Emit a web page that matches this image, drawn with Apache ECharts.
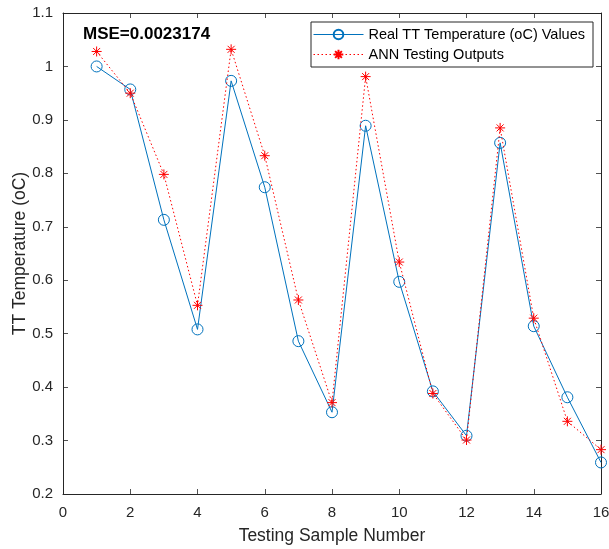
<!DOCTYPE html>
<html><head><meta charset="utf-8">
<script src="https://cdn.jsdelivr.net/npm/echarts@6/dist/echarts.min.js"></script>
<style>html,body{margin:0;padding:0;background:#fff}#c{width:609px;height:549px}</style>
</head><body><div id="c"></div>
<script>
const samples = [1,2,3,4,5,6,7,8,9,10,11,12,13,14,15,16];
const realValues = [1.000,0.957,0.713,0.508,0.973,0.774,0.486,0.353,0.889,0.597,0.392,0.309,0.857,0.514,0.381,0.259];
const annOutputs = [1.028,0.950,0.798,0.553,1.032,0.833,0.563,0.371,0.981,0.634,0.388,0.301,0.885,0.529,0.336,0.283];
const realName = 'Real TT Temperature (oC) Values';
const annName = 'ANN Testing Outputs';
const mseText = 'MSE=0.0023174';

const font = 'Liberation Sans, Arial, Helvetica, sans-serif';
const axisColor = '#262626';
const star = 'path://M0,5L10,5M5,0L5,10M1.5,1.5L8.5,8.5M8.5,1.5L1.5,8.5';

const chart = echarts.init(document.getElementById('c'), null, {renderer:'canvas'});
const tickOpts = {show:true, inside:true, length:5, lineStyle:{color:axisColor, width:0.8}};
chart.setOption({
  animation:false,
  backgroundColor:'#fff',
  title:{text:mseText, left:78, top:21, textStyle:{fontFamily:font, fontWeight:'bold', fontSize:17, color:'#000'}},
  grid:{left:63, right:8, top:13, bottom:55, containLabel:false, outerBoundsMode:'none'},
  legend:{
    orient:'vertical', left:311, top:22, width:282,
    backgroundColor:'#fff', borderColor:'#262626', borderWidth:1, borderRadius:0,
    padding:[5,8,5,2], itemGap:5, itemWidth:50, itemHeight:12,
    lineStyle:{width:1},
    textStyle:{fontFamily:font, fontSize:14.5, color:'#000'},
    data:[realName, annName]
  },
  xAxis:[
    {type:'value', min:0, max:16, interval:2, position:'bottom',
     name:'Testing Sample Number', nameLocation:'middle', nameGap:33,
     nameTextStyle:{fontFamily:font, fontSize:17.5, color:axisColor},
     axisLine:{show:true, lineStyle:{color:axisColor, width:1}},
     axisTick:tickOpts, splitLine:{show:false},
     axisLabel:{fontFamily:font, fontSize:15, color:axisColor, margin:11}},
    {type:'value', min:0, max:16, interval:2, position:'top',
     axisLine:{show:true, onZero:false, lineStyle:{color:axisColor, width:1}},
     axisTick:tickOpts, splitLine:{show:false}, axisLabel:{show:false}}
  ],
  yAxis:[
    {type:'value', min:0.2, max:1.1, interval:0.1, position:'left',
     name:'TT Temperature (oC)', nameLocation:'middle', nameGap:34, nameMoveOverlap:false,
     nameTextStyle:{fontFamily:font, fontSize:17.5, color:axisColor},
     axisLine:{show:true, lineStyle:{color:axisColor, width:1}},
     axisTick:tickOpts, splitLine:{show:false},
     axisLabel:{fontFamily:font, fontSize:15, color:axisColor, margin:10,
       formatter:v=>String(Math.round(v*10)/10)}},
    {type:'value', min:0.2, max:1.1, interval:0.1, position:'right',
     axisLine:{show:true, onZero:false, lineStyle:{color:axisColor, width:1}},
     axisTick:tickOpts, splitLine:{show:false}, axisLabel:{show:false}}
  ],
  series:[
    {name:realName, type:'line', data:samples.map((s,i)=>[s, realValues[i]]),
     symbol:'circle', symbolSize:11, showAllSymbol:true,
     lineStyle:{color:'#0072BD', width:1},
     itemStyle:{color:'rgba(255,255,255,0)', borderColor:'#0072BD', borderWidth:1},
     z:3},
    {name:annName, type:'line', data:samples.map((s,i)=>[s, annOutputs[i]]),
     symbol:star, symbolSize:10, showAllSymbol:true,
     lineStyle:{color:'#FF0000', width:1, type:[1.5,2.5]},
     itemStyle:{color:'#FF0000', borderColor:'#FF0000', borderWidth:1},
     z:4}
  ]
});
</script></body></html>
